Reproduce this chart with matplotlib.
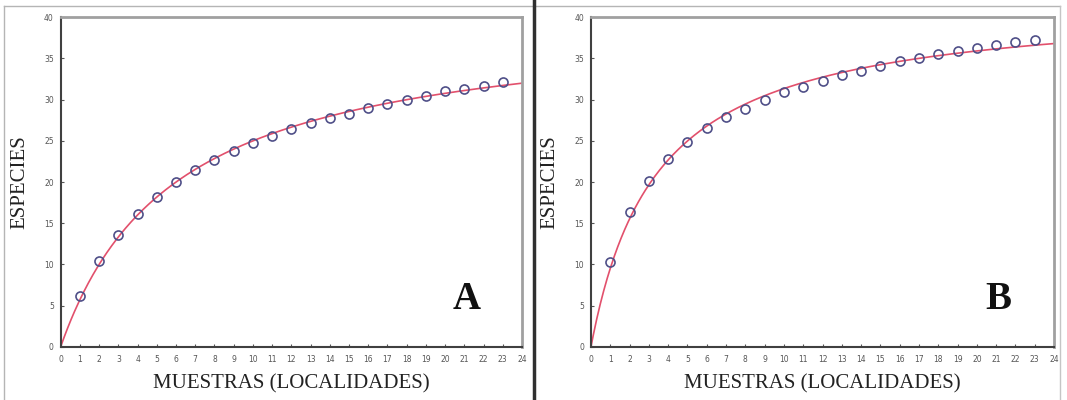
import numpy as np
import matplotlib
matplotlib.use("Agg")
import matplotlib.pyplot as plt
from matplotlib.lines import Line2D

# ---- data ----
muestras = list(range(1, 24))
especies_a = [6.2, 10.4, 13.6, 16.1, 18.2, 20.0, 21.5, 22.7, 23.8, 24.7, 25.6,
              26.4, 27.2, 27.8, 28.3, 29.0, 29.5, 30.0, 30.5, 31.0, 31.3, 31.7, 32.2]
especies_b = [10.3, 16.3, 20.1, 22.8, 24.9, 26.5, 27.9, 28.9, 30.0, 30.9, 31.5,
              32.3, 33.0, 33.5, 34.1, 34.7, 35.1, 35.5, 35.9, 36.3, 36.6, 37.0, 37.2]
paneles = ["A", "B"]

X_TICKS = list(range(0, 25))
Y_TICKS = list(range(0, 41, 5))


def ajuste_clench(x, y):
    # S = a*x / (1 + b*x), least squares (grid on b, closed form for a)
    x = np.asarray(x, float)
    y = np.asarray(y, float)
    best = None
    for b in np.linspace(0.005, 1.5, 3000):
        f = x / (1 + b * x)
        a = f @ y / (f @ f)
        sse = ((y - a * f) ** 2).sum()
        if best is None or sse < best[0]:
            best = (sse, a, b)
    return best[1], best[2]


fig = plt.figure(figsize=(10.67, 4.0), dpi=100, facecolor="white")

ejes = [
    fig.add_axes([60.7 / 1067, 1 - 346.7 / 400, (522 - 60.7) / 1067, 329.4 / 400]),
    fig.add_axes([591 / 1067, 1 - 346.7 / 400, (1054 - 591) / 1067, 329.4 / 400]),
]

for ax, y, letra in zip(ejes, [especies_a, especies_b], paneles):
    a, b = ajuste_clench(muestras, y)
    xx = np.linspace(0, 24, 400)
    ax.plot(xx, a * xx / (1 + b * xx), color="#e2506c", lw=1.2, zorder=2)
    ax.plot(muestras, y, "o", ms=6.5, mfc="none", mec="#4f4f88", mew=1.2,
            zorder=3, clip_on=False)

    ax.set_xlim(0, 24)
    ax.set_ylim(0, 40)
    ax.set_xticks(X_TICKS)
    ax.set_yticks(Y_TICKS)
    ax.tick_params(axis="both", direction="in", length=2.5, width=0.8,
                   colors="#555555", labelsize=5.5, labelcolor="#555555")
    ax.tick_params(axis="x", pad=6)
    ax.tick_params(axis="y", pad=5)

    for lado in ["left", "bottom"]:
        ax.spines[lado].set_color("#404040")
        ax.spines[lado].set_linewidth(1.5)
    for lado in ["top", "right"]:
        ax.spines[lado].set_color("#a0a0a0")
        ax.spines[lado].set_linewidth(2.0)

    ax.set_ylabel("ESPECIES", family="Liberation Serif", fontsize=15,
                  color="#222222")
    ax.yaxis.set_label_coords(-0.068, 0.5)
    ax.set_xlabel("MUESTRAS (LOCALIDADES)", family="Liberation Serif",
                  fontsize=15, color="#222222")
    ax.xaxis.set_label_coords(0.5, -0.085)

    ax.text(0.88, 0.143, letra, transform=ax.transAxes, ha="center",
            va="center", family="Liberation Serif", fontweight="bold",
            fontsize=28, color="#111111")

# marcos de la figura
fig.add_artist(Line2D([4 / 1067, 1060 / 1067], [1 - 6 / 400] * 2,
                      color="#b5b5b5", lw=1.0))
fig.add_artist(Line2D([4 / 1067] * 2, [0, 1 - 6 / 400], color="#b5b5b5", lw=1.0))
fig.add_artist(Line2D([1060 / 1067] * 2, [0, 1 - 6 / 400], color="#c5c5c5", lw=1.0))
fig.add_artist(Line2D([533.5 / 1067] * 2, [0, 1], color="#303030", lw=2.5))

fig.savefig("out.png", dpi=100, facecolor="white")
